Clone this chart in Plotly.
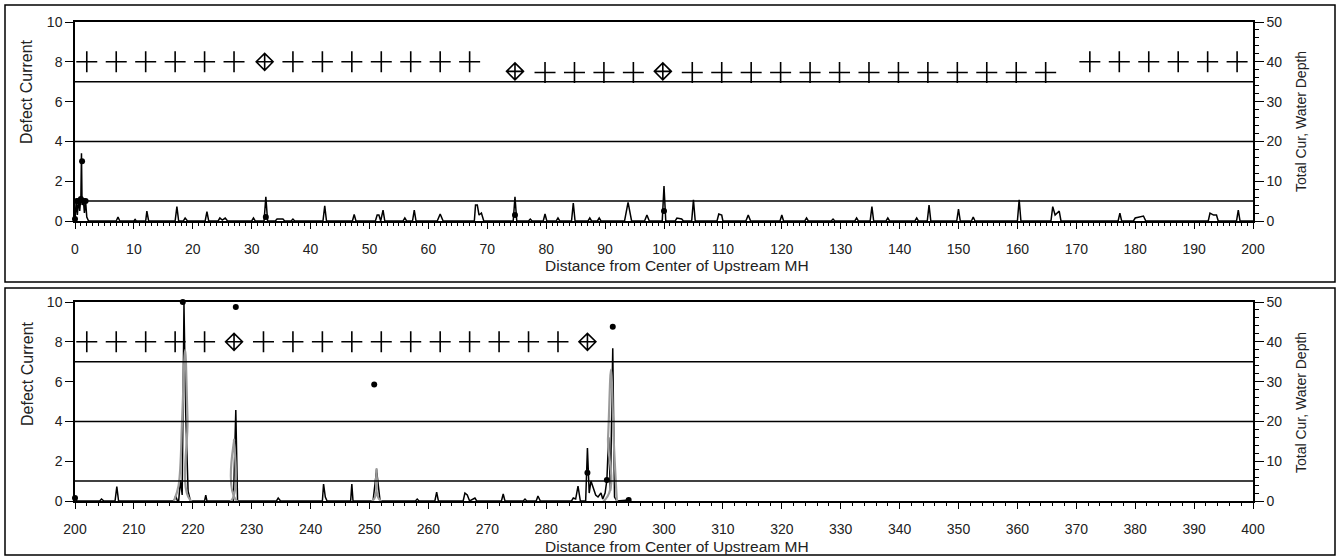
import plotly.graph_objects as go

# ---------------- data ----------------
# Top panel (0-200): defect current trace (left axis)
top_x = [0.0, 0.2, 0.4, 0.6, 0.8, 1.0, 1.1, 1.2, 1.4, 1.6, 1.8, 2.0, 2.3,
         7.0, 7.3, 7.6, 10.0, 10.2, 10.4, 12.0, 12.2, 12.5, 17.0, 17.3, 17.6, 18.4, 18.7, 19.1,
         22.1, 22.4, 22.7, 24.3, 24.6, 25.0, 25.5, 25.9, 30.0, 30.3, 30.6,
         32.1, 32.4, 32.7, 34.0, 34.3, 35.3, 35.6, 36.7, 37.0, 37.3,
         42.1, 42.4, 42.7, 47.1, 47.4, 47.7, 51.0, 51.3, 51.6, 51.9, 52.3, 52.6,
         55.7, 56.0, 56.3, 57.3, 57.6, 57.9, 61.5, 62.0, 62.5,
         67.8, 68.0, 68.3, 68.6, 69.0, 69.4, 74.4, 74.7, 75.0, 77.0, 77.3, 77.6,
         79.5, 79.8, 80.1, 81.7, 82.0, 82.3, 84.3, 84.6, 84.9, 87.1, 87.4, 87.7,
         88.7, 89.0, 89.3, 93.3, 93.9, 94.5, 96.7, 97.1, 97.5,
         99.7, 100.0, 100.3, 101.9, 102.2, 103.0, 103.3, 104.7, 105.0, 105.3,
         109.0, 109.3, 109.8, 110.0, 113.9, 114.3, 114.7, 119.7, 120.0, 120.3,
         123.9, 124.2, 124.5, 128.4, 128.7, 129.0, 132.4, 132.7, 133.0,
         135.0, 135.3, 135.6, 137.7, 138.0, 138.3, 142.6, 142.9, 143.2,
         144.7, 145.0, 145.3, 149.7, 150.0, 150.3, 152.2, 152.5, 152.8,
         160.0, 160.3, 160.6, 165.7, 166.0, 166.4, 167.1, 167.4,
         177.1, 177.4, 177.7, 179.7, 180.0, 181.4, 181.8,
         192.4, 192.7, 193.3, 193.8, 194.1, 197.2, 197.5, 197.8, 200.0]
top_y = [0.0, 1.0, 0.3, 1.1, 0.5, 1.2, 3.4, 0.8, 1.1, 0.4, 1.0, 0.2, 0.0,
         0.0, 0.2, 0.0, 0.0, 0.08, 0.0, 0.0, 0.5, 0.0, 0.0, 0.72, 0.0, 0.0, 0.15, 0.0,
         0.0, 0.47, 0.0, 0.0, 0.15, 0.05, 0.15, 0.0, 0.0, 0.15, 0.0,
         0.0, 1.22, 0.0, 0.0, 0.1, 0.1, 0.0, 0.0, 0.1, 0.0,
         0.0, 0.76, 0.0, 0.0, 0.33, 0.0, 0.0, 0.3, 0.3, 0.0, 0.55, 0.0,
         0.0, 0.15, 0.0, 0.0, 0.55, 0.0, 0.0, 0.35, 0.0,
         0.0, 0.8, 0.8, 0.3, 0.4, 0.0, 0.0, 1.22, 0.0, 0.0, 0.1, 0.0,
         0.0, 0.35, 0.0, 0.0, 0.15, 0.0, 0.0, 0.9, 0.0, 0.0, 0.15, 0.0,
         0.0, 0.15, 0.0, 0.0, 0.94, 0.0, 0.0, 0.3, 0.0,
         0.0, 1.76, 0.0, 0.0, 0.15, 0.1, 0.0, 0.0, 1.06, 0.0,
         0.0, 0.35, 0.3, 0.0, 0.0, 0.3, 0.0, 0.0, 0.3, 0.0,
         0.0, 0.15, 0.0, 0.0, 0.1, 0.0, 0.0, 0.15, 0.0,
         0.0, 0.72, 0.0, 0.0, 0.15, 0.0, 0.0, 0.15, 0.0,
         0.0, 0.8, 0.0, 0.0, 0.6, 0.0, 0.0, 0.2, 0.0,
         0.0, 1.06, 0.0, 0.0, 0.72, 0.3, 0.5, 0.0,
         0.0, 0.4, 0.0, 0.0, 0.15, 0.25, 0.0,
         0.0, 0.4, 0.3, 0.3, 0.0, 0.0, 0.55, 0.0, 0.0]
top_dot_x = [0.0, 0.3, 0.6, 1.0, 1.2, 1.5, 1.8, 32.4, 74.7, 100.0]
top_dot_y = [0.1, 1.0, 1.0, 1.1, 3.0, 1.0, 1.0, 0.2, 0.3, 0.5]

# water depth markers (right axis units)
top_cross_x = [2, 7, 12, 17, 22, 27, 37, 42, 47, 52, 57, 62, 67,
               79.8, 84.8, 89.8, 94.8, 104.8, 109.8, 114.8, 119.8, 124.8, 129.8, 134.8,
               139.8, 144.8, 149.8, 154.8, 159.8, 164.8,
               172.3, 177.3, 182.3, 187.3, 192.3, 197.3]
top_cross_y = [40] * 13 + [37.3] * 17 + [40] * 6
top_diam_x = [32.2, 74.7, 99.8]
top_diam_y = [40, 37.6, 37.6]

# Bottom panel (200-400)
bot_x = [200.0, 200.3, 204.2, 204.5, 204.9, 206.8, 207.1, 207.4, 216.8, 217.1, 217.4,
         217.6, 217.9, 218.2, 218.5, 218.8, 219.2, 219.6, 222.0, 222.2, 222.4,
         226.9, 227.3, 227.6, 234.2, 234.5, 234.9, 242.0, 242.2, 242.5, 242.8,
         246.8, 247.0, 247.2, 250.6, 251.2, 251.8, 257.8, 258.1, 258.4,
         261.1, 261.4, 261.7, 265.9, 266.2, 266.6, 267.0, 267.9, 268.2,
         272.4, 272.7, 273.0, 276.1, 276.4, 276.7, 278.3, 278.6, 279.0,
         284.3, 284.6, 285.0, 285.4, 285.8, 286.7, 287.0, 287.3, 287.6, 288.0,
         288.4, 288.8, 289.3, 289.6, 290.0, 290.3, 290.6, 290.9, 291.3, 291.6,
         292.0, 294.0, 294.2]
bot_y = [0.15, 0.0, 0.0, 0.1, 0.0, 0.0, 0.72, 0.0, 0.0, 0.25, 0.0,
         0.0, 1.05, 0.3, 9.9, 4.4, 0.5, 0.0, 0.0, 0.3, 0.0,
         0.0, 4.57, 0.0, 0.0, 0.15, 0.0, 0.0, 0.85, 0.2, 0.0,
         0.0, 0.85, 0.0, 0.0, 1.56, 0.0, 0.0, 0.1, 0.0,
         0.0, 0.45, 0.0, 0.0, 0.4, 0.3, 0.0, 0.15, 0.0,
         0.0, 0.35, 0.0, 0.0, 0.1, 0.0, 0.0, 0.25, 0.0,
         0.0, 0.15, 0.1, 0.75, 0.0, 0.0, 2.66, 0.4, 1.0, 0.6,
         0.3, 0.2, 0.4, 0.1, 0.4, 1.05, 3.2, 0.5, 7.67, 0.2,
         0.0, 0.05, 0.0]
bot_total_x = [216.8, 217.6, 218.2, 218.7, 219.1, 219.7, 226.5, 227.0, 227.5,
               250.5, 251.2, 251.9, 289.8, 290.5, 291.0, 291.5, 292.0]
bot_total_y = [0, 4, 21, 38, 21, 0, 0, 15.4, 0,
               0, 8, 0, 0, 16, 33, 14, 0]
bot_dot_x = [200.0, 218.3, 227.3, 250.8, 287.0, 290.3, 291.3, 294.0]
bot_dot_y = [0.15, 10.0, 9.75, 5.85, 1.42, 1.05, 8.76, 0.05]
bot_cross_x = [202, 207, 212, 217, 222, 232, 237, 242, 247, 252, 257, 262, 267, 272, 277, 282]
bot_cross_y = [40] * 16
bot_diam_x = [227, 287]
bot_diam_y = [40, 40]

threshold_levels = [1, 4, 7]
x_title = "Distance from Center of Upstream MH"
left_title = "Defect Current"
right_title = "Total Cur, Water Depth"

# ---------------- figure ----------------
W, H = 1341, 560
FONT = "Arial, Liberation Sans, sans-serif"
TXT = "#222222"

def px_x(p):
    return p / W

def px_y(p):
    return 1 - p / H

xdom = [px_x(75), px_x(1253)]
top_dom = [px_y(221), px_y(22)]
bot_dom = [px_y(501), px_y(302)]

fig = go.Figure()

panels = [
    dict(xa="x", ya="y", ya2="y2", lx=top_x, ly=top_y, dx=top_dot_x, dy=top_dot_y,
         cx=top_cross_x, cy=top_cross_y, mx=top_diam_x, my=top_diam_y, tx=None, ty=None),
    dict(xa="x2", ya="y3", ya2="y4", lx=bot_x, ly=bot_y, dx=bot_dot_x, dy=bot_dot_y,
         cx=bot_cross_x, cy=bot_cross_y, mx=bot_diam_x, my=bot_diam_y,
         tx=bot_total_x, ty=bot_total_y),
]

for p in panels:
    if p["tx"] is not None:
        fig.add_trace(go.Scatter(x=p["tx"], y=p["ty"], xaxis=p["xa"], yaxis=p["ya2"],
                                 mode="lines", line=dict(color="#9a9a9a", width=2.2, shape="spline"),
                                 showlegend=False, hoverinfo="skip"))
    fig.add_trace(go.Scatter(x=p["lx"], y=p["ly"], xaxis=p["xa"], yaxis=p["ya"],
                             mode="lines", line=dict(color="black", width=1.5),
                             showlegend=False, cliponaxis=False))
    fig.add_trace(go.Scatter(x=p["dx"], y=p["dy"], xaxis=p["xa"], yaxis=p["ya"],
                             mode="markers", marker=dict(color="black", size=6),
                             showlegend=False, cliponaxis=False))
    fig.add_trace(go.Scatter(x=p["cx"], y=p["cy"], xaxis=p["xa"], yaxis=p["ya2"],
                             mode="markers",
                             marker=dict(symbol="cross-thin-open", size=15, color="black",
                                         line=dict(color="black", width=1.6)),
                             showlegend=False, cliponaxis=False))
    fig.add_trace(go.Scatter(x=p["mx"], y=p["my"], xaxis=p["xa"], yaxis=p["ya2"],
                             mode="markers",
                             marker=dict(symbol="diamond-cross-open", size=13,
                                         color="black",
                                         line=dict(color="black", width=1.6)),
                             showlegend=False, cliponaxis=False))

tickfont = dict(family=FONT, size=14, color=TXT)
xcommon = dict(domain=xdom, dtick=10, ticks="outside", ticklen=6, tickwidth=1.2,
               tickcolor="black", showline=True, linecolor="black", linewidth=1.5,
               mirror=True, showgrid=False, zeroline=False, tickfont=tickfont,
               ticklabelstandoff=8, automargin=False,
               minor=dict(dtick=1, ticks="outside", ticklen=3, tickcolor="black"))
ycommon = dict(dtick=2, ticks="outside", ticklen=8, tickwidth=1.2, tickcolor="black",
               showline=True, linecolor="black", linewidth=1.5, showgrid=False,
               zeroline=False, tickfont=tickfont, range=[0, 10], automargin=False)
y2common = dict(dtick=10, ticks="outside", ticklen=9, tickwidth=1.2, tickcolor="black",
                showline=True, linecolor="black", linewidth=1.5, showgrid=False,
                zeroline=False, tickfont=tickfont, range=[0, 50], side="right",
                automargin=False,
                minor=dict(dtick=2, ticks="outside", ticklen=4, tickcolor="black"))

fig.update_layout(
    template="none",
    width=W, height=H, margin=dict(l=0, r=0, t=0, b=0, pad=0, autoexpand=False),
    paper_bgcolor="white", plot_bgcolor="white",
    font=dict(family=FONT, size=14, color=TXT),
    xaxis=dict(anchor="y", range=[0, 200], **xcommon),
    xaxis2=dict(anchor="y3", range=[200, 400], **{**xcommon, "minor": dict(dtick=2, ticks="outside", ticklen=3, tickcolor="black")}),
    yaxis=dict(domain=top_dom, anchor="x", **ycommon),
    yaxis2=dict(anchor="x", overlaying="y", **y2common),
    yaxis3=dict(domain=bot_dom, anchor="x2", **ycommon),
    yaxis4=dict(anchor="x2", overlaying="y3", **y2common),
)

shapes = []
# panel frames
for top_px, bot_px in [(5, 282), (288, 555)]:
    shapes.append(dict(type="rect", xref="paper", yref="paper",
                       x0=px_x(5), x1=px_x(1335), y0=px_y(bot_px), y1=px_y(top_px),
                       line=dict(color="black", width=1.5), layer="below"))
# threshold lines
for ya, xa in [("y", "x"), ("y3", "x2")]:
    for lv in threshold_levels:
        shapes.append(dict(type="line", xref=f"{xa} domain", yref=ya, x0=0, x1=1,
                           y0=lv, y1=lv, line=dict(color="black", width=1.5)))
fig.update_layout(shapes=shapes)

annotations = []
for xt_y, lt_y, rt_y in [(265, 92, 122), (546, 374, 403)]:
    annotations.append(dict(text=x_title, xref="paper", yref="paper",
                            x=px_x(677), y=px_y(xt_y), showarrow=False,
                            font=dict(family=FONT, size=15.5, color=TXT),
                            xanchor="center", yanchor="middle"))
    annotations.append(dict(text=left_title, xref="paper", yref="paper",
                            x=px_x(27), y=px_y(lt_y), showarrow=False, textangle=-90,
                            font=dict(family=FONT, size=16, color=TXT),
                            xanchor="center", yanchor="middle"))
    annotations.append(dict(text=right_title, xref="paper", yref="paper",
                            x=px_x(1301), y=px_y(rt_y), showarrow=False, textangle=-90,
                            font=dict(family=FONT, size=14, color=TXT),
                            xanchor="center", yanchor="middle"))
fig.update_layout(annotations=annotations)

fig.write_html("out.html", config={"displayModeBar": False},
               post_script="document.body.style.margin='0';")
